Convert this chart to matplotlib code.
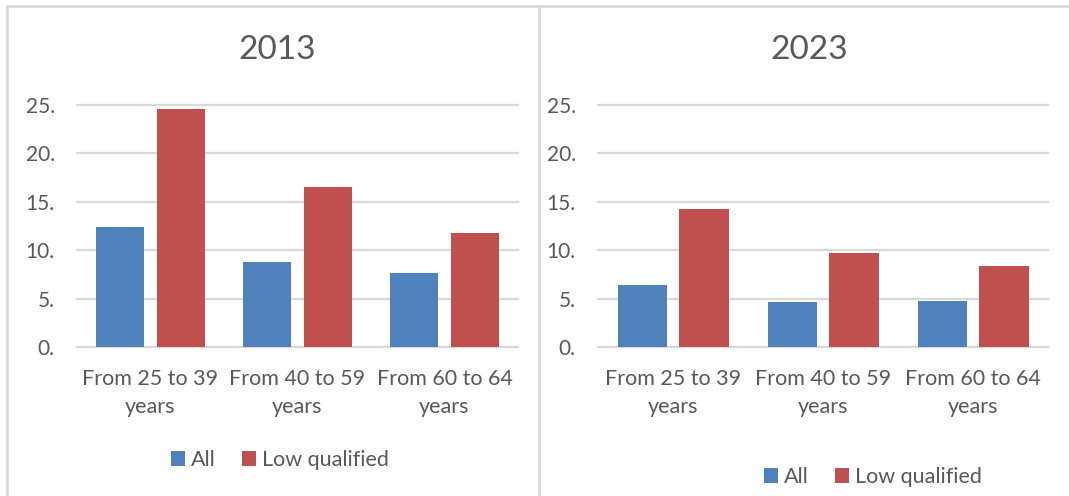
import matplotlib
matplotlib.use("Agg")
import matplotlib.pyplot as plt
from matplotlib.patches import Patch
from matplotlib.lines import Line2D
import numpy as np

plt.rcParams['font.family'] = ['Lato', 'DejaVu Sans']

categories = ["From 25 to 39\nyears", "From 40 to 59\nyears", "From 60 to 64\nyears"]
years = ["2013", "2023"]
all_2013 = [12.4, 8.8, 7.6]
low_2013 = [24.6, 16.5, 11.8]
all_2023 = [6.4, 4.6, 4.8]
low_2023 = [14.3, 9.7, 8.4]
y_ticks = [0, 5, 10, 15, 20, 25]
y_tick_labels = ["0.", "5.", "10.", "15.", "20.", "25."]
series_names = ["All", "Low qualified"]

BLUE = "#4F81BD"
RED = "#C0504D"
TEXT = "#595959"
GRID = "#D9D9D9"

W, H = 1069, 496
fig = plt.figure(figsize=(W / 100, H / 100), dpi=100)


def px_axes(x0, x1, ytop, ybot):
    return fig.add_axes([x0 / W, 1 - ybot / H, (x1 - x0) / W, (ybot - ytop) / H])


def draw_panel(ax, all_vals, low_vals):
    x = np.arange(len(categories))
    bw = 0.327
    off = 0.2065
    ax.bar(x - off, all_vals, bw, color=BLUE, zorder=3)
    ax.bar(x + off, low_vals, bw, color=RED, zorder=3)
    ax.set_xlim(-0.5, len(categories) - 0.5)
    ax.set_ylim(0, 25)
    ax.set_yticks(y_ticks)
    ax.set_yticklabels(y_tick_labels)
    ax.set_xticks(x)
    ax.set_xticklabels(categories, linespacing=1.5)
    for s in ax.spines.values():
        s.set_visible(False)
    for t in y_ticks:
        ax.axhline(t, color=GRID, lw=1.6, zorder=1, clip_on=False)
    ax.tick_params(axis='y', length=0, colors=TEXT, labelsize=15, pad=16)
    ax.tick_params(axis='x', length=0, colors=TEXT, labelsize=15.5, pad=16)


ax1 = px_axes(77, 518, 105, 347)
draw_panel(ax1, all_2013, low_2013)
ax2 = px_axes(598, 1048, 105, 347)
draw_panel(ax2, all_2023, low_2023)

fig.text(277 / W, 1 - 50 / H, years[0], ha='center', va='center', fontsize=24, color=TEXT)
fig.text(809 / W, 1 - 50 / H, years[1], ha='center', va='center', fontsize=24, color=TEXT)

handles = [Patch(facecolor=BLUE), Patch(facecolor=RED)]
for cx, cy in [(280, 460), (873, 477)]:
    fig.legend(handles, series_names, loc='center', bbox_to_anchor=(cx / W, 1 - cy / H),
               ncol=2, frameon=False, fontsize=15.5, labelcolor=TEXT,
               handlelength=0.65, handleheight=0.65, handletextpad=0.3,
               columnspacing=1.2, borderpad=0)

# panel frames
frame_kw = dict(color=GRID, lw=2.0, transform=fig.transFigure)
fig.add_artist(Line2D([6.5 / W, 1], [1 - 6 / H, 1 - 6 / H], **frame_kw))
fig.add_artist(Line2D([6.5 / W, 6.5 / W], [0, 1 - 6 / H], **frame_kw))
fig.add_artist(Line2D([539 / W, 539 / W], [0, 1 - 6 / H], **frame_kw))

fig.savefig("out.png", dpi=100, facecolor="white")
